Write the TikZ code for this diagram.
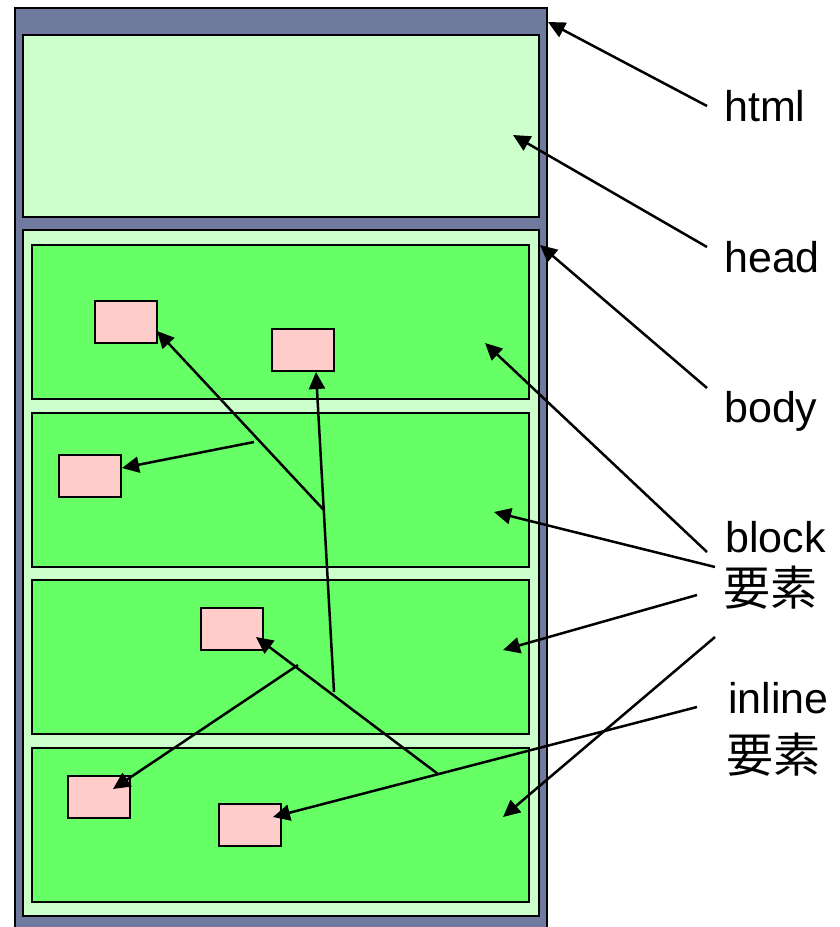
\documentclass[tikz,border=0pt]{standalone}
\usepackage{fontspec}
\setmainfont{Liberation Sans}
\newfontfamily\jpfont{Noto Sans CJK JP}
\usetikzlibrary{arrows.meta}
\definecolor{htmlblue}{RGB}{112,122,158}
\definecolor{headgreen}{RGB}{204,255,204}
\definecolor{blockgreen}{RGB}{102,255,102}
\definecolor{inlinepink}{RGB}{255,204,204}

\tikzset{
  box/.style={draw, line width=1.3pt, inner sep=0pt, outer sep=0pt, anchor=north west},
  ptr/.style={-{Triangle[length=17pt,width=16pt]}, line width=2.5pt},
  lbl/.style={anchor=base west, inner sep=0pt, font=\fontsize{43}{46}\selectfont},
  jlbl/.style={lbl, font=\jpfont\fontsize{47}{50}\selectfont},
}

\begin{document}
\begin{tikzpicture}[x=1pt, y=-1pt]
    \useasboundingbox (0,0) rectangle (840,927);
    \node[box, line width=2pt, fill=htmlblue, minimum width=532pt, minimum height=940pt] (html) at (15,8) {};
    \node[box, fill=headgreen, minimum width=516pt, minimum height=182pt] (head) at (23,35) {};
    \node[box, fill=headgreen, minimum width=516pt, minimum height=686pt] (body) at (23,230) {};
    \foreach \i/\y in {1/245, 2/413, 3/580, 4/748}
        \node[box, fill=blockgreen, minimum width=497pt, minimum height=154pt] (blk\i) at (32,\y) {};
    \foreach \i/\x/\y in {1/95/301, 2/272/329, 3/59/455, 4/201/608, 5/68/776, 6/219/804}
        \node[box, fill=inlinepink, minimum width=62pt, minimum height=42pt] (inl\i) at (\x,\y) {};

    \node[lbl] (lhtml) at (724,121) {html};
    \node[lbl] (lhead) at (724,272) {head};
    \node[lbl] (lbody) at (724,422) {body};
    \node[lbl] (lblock) at (725,552) {block};
    \node[jlbl] (lblockj) at (723,605) {要素};
    \node[lbl] (linline) at (728,713) {inline};
    \node[jlbl] (linlinej) at (726,772) {要素};

    \coordinate (sHtml) at (707,106);  \coordinate (tHtml) at (548,22);
    \coordinate (sHead) at (707,247);  \coordinate (tHead) at (513,135);
    \coordinate (sBody) at (707,388);  \coordinate (tBody) at (540,245);
    \coordinate (sBlk1) at (707,552);  \coordinate (tBlk1) at (485,343);
    \coordinate (sBlk2) at (715,567);  \coordinate (tBlk2) at (494,512);
    \coordinate (sBlk3) at (697,595);  \coordinate (tBlk3) at (503,650);
    \coordinate (sBlk4) at (715,637);  \coordinate (tBlk4) at (503,817);
    \coordinate (sIn6) at (697,707);   \coordinate (tIn6) at (273,817);
    \coordinate (cIn) at (438,774);    \coordinate (tIn4) at (256,637);
    \coordinate (sIn2) at (334,692);   \coordinate (tIn2) at (316,372);
    \coordinate (cUp) at (323.8,510);  \coordinate (tIn1) at (157,331);
    \coordinate (sIn3) at (254,442);   \coordinate (tIn3) at (122,468);
    \coordinate (sIn5) at (298,665);   \coordinate (tIn5) at (113,789);

    \draw[ptr] (sHtml) -- (tHtml);
    \draw[ptr] (sHead) -- (tHead);
    \draw[ptr] (sBody) -- (tBody);
    \foreach \i in {1,2,3,4}
        \draw[ptr] (sBlk\i) -- (tBlk\i);
    \draw[ptr] (sIn6) -- (tIn6);
    \draw[ptr] (cIn) -- (tIn4);
    \draw[ptr] (sIn2) -- (tIn2);
    \draw[ptr] (cUp) -- (tIn1);
    \draw[ptr] (sIn3) -- (tIn3);
    \draw[ptr] (sIn5) -- (tIn5);
\end{tikzpicture}
\end{document}
